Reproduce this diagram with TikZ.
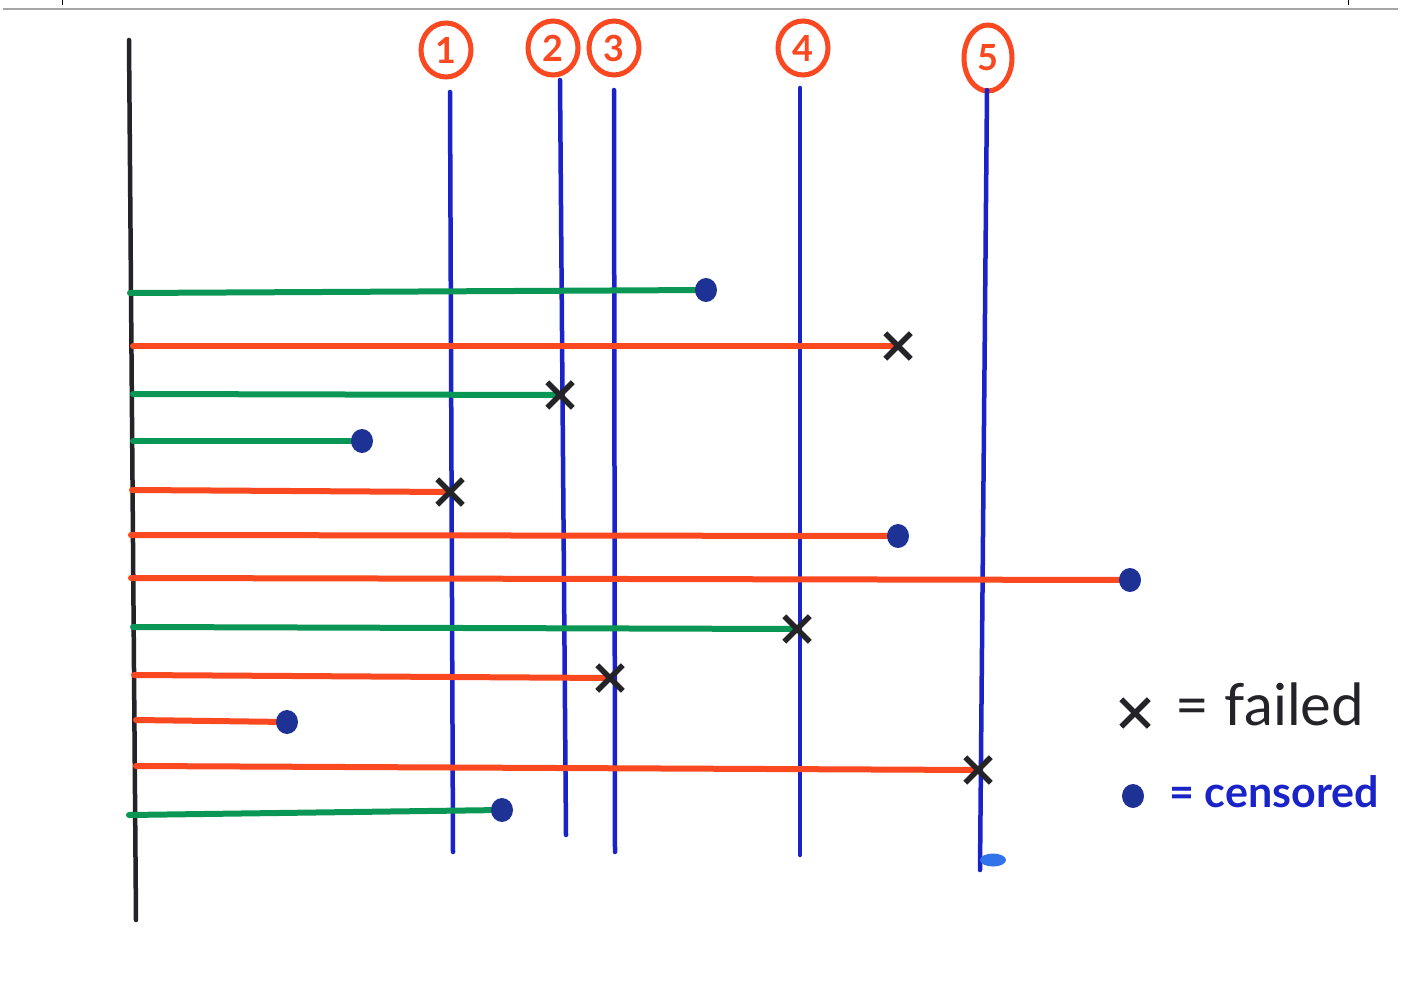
\documentclass[tikz,border=0pt]{standalone}
\usepackage{fontspec}
\setmainfont{Lato}
\usetikzlibrary{shapes.misc,shapes.geometric}
\definecolor{redo}{RGB}{250,72,32}
\definecolor{grn}{RGB}{10,150,85}
\definecolor{blu}{RGB}{25,35,200}
\definecolor{dotc}{RGB}{30,50,150}
\definecolor{ink}{RGB}{35,35,40}
\definecolor{blob}{RGB}{50,115,235}
\tikzset{
  axisline/.style={line width=4.5pt, ink, line cap=round},
  vline/.style={line width=4.5pt, blu, line cap=round},
  redline/.style={line width=6pt, redo, line cap=round},
  grnline/.style={line width=6pt, grn, line cap=round},
  cens/.style={ellipse, fill=dotc, minimum width=22pt, minimum height=24pt, inner sep=0pt},
  failx/.style={cross out, draw=ink, line width=5.5pt, minimum size=20pt, inner sep=0pt},
  numlbl/.style={ellipse, draw=redo, line width=5pt, text=redo, minimum width=50pt, minimum height=54pt, inner sep=0pt, font=\fontsize{36}{38}\selectfont\bfseries},
}
\begin{document}
\begin{tikzpicture}[x=1pt,y=-1pt]
\useasboundingbox[fill=white] (0,0) rectangle (1414,990);
% scan edge
\draw[line width=1.5pt, gray!70] (3,9) -- (1398,9);
\draw[line width=1pt, black] (62,0) -- (62,5) (1348,0) -- (1348,5);
% axis
\coordinate (atop) at (129,40);
\coordinate (abot) at (136,920);
\draw[axisline] (atop) -- (abot);
% numbered labels
\node[numlbl] (n1) at (446,50) {1};
\node[numlbl] (n2) at (553,48) {2};
\node[numlbl] (n3) at (614,48) {3};
\node[numlbl] (n4) at (803,48) {4};
\node[numlbl, minimum width=48pt, minimum height=66pt] (n5) at (988,58) {5};
% blue vertical lines
\coordinate (v1t) at (450,92);  \coordinate (v1b) at (453,852);
\coordinate (v2t) at (560,80);  \coordinate (v2b) at (566,835);
\coordinate (v3t) at (614,90);  \coordinate (v3b) at (615,852);
\coordinate (v4t) at (800,88);  \coordinate (v4b) at (800,855);
\coordinate (v5t) at (987,90);  \coordinate (v5b) at (980,870);
\draw[vline] (v1t) -- (v1b);
\draw[vline] (v2t) -- (v2b);
\draw[vline] (v3t) -- (v3b);
\draw[vline] (v4t) -- (v4b);
\draw[vline] (v5t) -- (v5b);
\node[ellipse, fill=blob, minimum width=26pt, minimum height=13pt, inner sep=0pt] (blobn) at (993,860) {};
% subjects
\coordinate (s1) at (130,293);  \coordinate (s2) at (133,346);
\coordinate (s3) at (133,394);  \coordinate (s4) at (133,441);
\coordinate (s5) at (132,490);  \coordinate (s6) at (131,535);
\coordinate (s7) at (131,578);  \coordinate (s8) at (133,627);
\coordinate (s9) at (134,675);  \coordinate (s10) at (136,720);
\coordinate (s11) at (136,766); \coordinate (s12) at (129,815);
\coordinate (p1) at (706,290);  \coordinate (p2) at (898,346);
\coordinate (p3) at (560,395);  \coordinate (p4) at (362,441);
\coordinate (p5) at (450,492);  \coordinate (p6) at (898,536);
\coordinate (p7) at (1130,580); \coordinate (p8) at (797,629);
\coordinate (p9) at (610,678);  \coordinate (p10) at (287,722);
\coordinate (p11) at (978,770); \coordinate (p12) at (502,810);
\draw[grnline] (s1) -- (p1);
\draw[redline] (s2) -- (p2);
\draw[grnline] (s3) -- (p3);
\draw[grnline] (s4) -- (p4);
\draw[redline] (s5) -- (p5);
\draw[redline] (s6) -- (p6);
\draw[redline] (s7) -- (p7);
\draw[grnline] (s8) -- (p8);
\draw[redline] (s9) -- (p9);
\draw[redline] (s10) -- (p10);
\draw[redline] (s11) -- (p11);
\draw[grnline] (s12) -- (p12);
% end markers
\node[cens] (e1) at (p1) {};
\node[failx] (e2) at (p2) {};
\node[failx] (e3) at (p3) {};
\node[cens] (e4) at (p4) {};
\node[failx] (e5) at (p5) {};
\node[cens] (e6) at (p6) {};
\node[cens] (e7) at (p7) {};
\node[failx] (e8) at (p8) {};
\node[failx] (e9) at (p9) {};
\node[cens] (e10) at (p10) {};
\node[failx] (e11) at (p11) {};
\node[cens] (e12) at (p12) {};
% legend
\node[failx, minimum size=22pt] (lx) at (1135,713) {};
\node[anchor=west, text=ink, font=\fontsize{58}{62}\selectfont] (lf) at (1172,704) {= failed};
\node[cens] (lc) at (1133,796) {};
\node[anchor=west, text=blu, font=\fontsize{43}{46}\selectfont\bfseries] (lcen) at (1166,792) {= censored};
\end{tikzpicture}
\end{document}
